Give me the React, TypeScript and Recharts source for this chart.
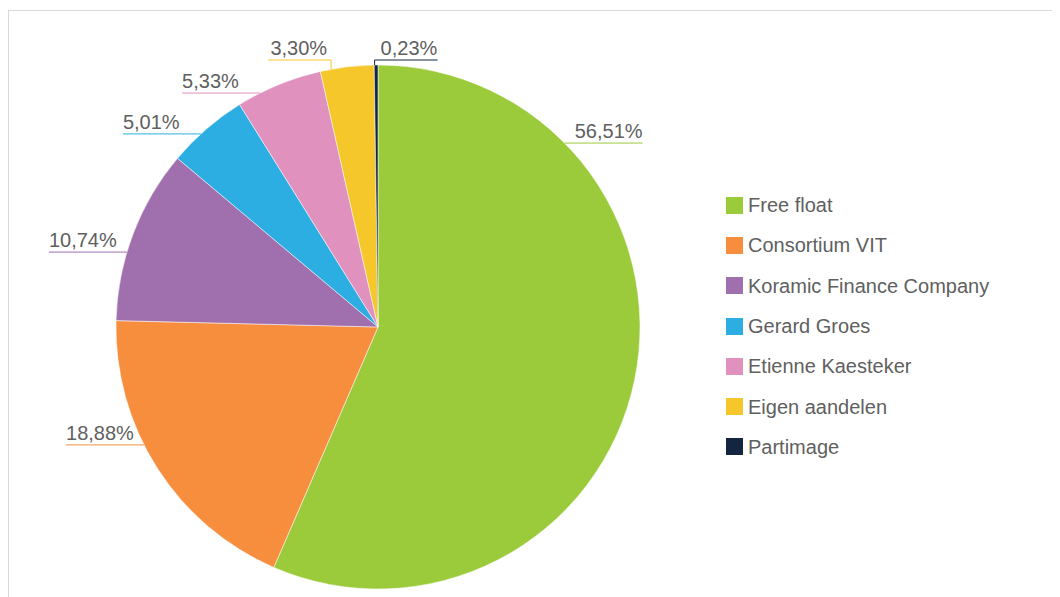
import React from 'react';
import { PieChart, Pie, Cell, Legend } from 'recharts';

const categories = [
  'Free float',
  'Consortium VIT',
  'Koramic Finance Company',
  'Gerard Groes',
  'Etienne Kaesteker',
  'Eigen aandelen',
  'Partimage',
];
const shares = [56.51, 18.88, 10.74, 5.01, 5.33, 3.3, 0.23];
const colors = ['#9bcb3b', '#f68e3e', '#a06fae', '#2daee3', '#e091be', '#f6c72b', '#13253f'];

// label placement (Excel "best fit" style): side labels at a vertical offset, top labels with a vertical connector
const labelLayout = [
  { kind: 'side', dy: -0.702, dir: 1 },
  { kind: 'side', dy: 0.45, dir: -1 },
  { kind: 'side', dy: -0.286, dir: -1 },
  { kind: 'side', dy: -0.737, dir: -1 },
  { kind: 'side', dy: -0.893, dir: -1 },
  { kind: 'top', dx: -0.179, dir: -1 },
  { kind: 'top', dx: -0.013, dir: 1 },
];

const data = categories.map((name, i) => ({ name, value: shares[i] }));

const FONT = '"Liberation Sans", Arial, Helvetica, sans-serif';
const TEXT = '#606060';

const fmt = (v: number) => v.toFixed(2).replace('.', ',') + '%';

const renderLabel = (props: any) => {
  const { cx, cy, outerRadius: r, index, value } = props;
  const lay: any = labelLayout[index];
  const color = colors[index];
  const txt = fmt(value);
  if (lay.kind === 'side') {
    const ly = cy + lay.dy * r;
    const ex = cx + lay.dir * Math.sqrt(r * r - (lay.dy * r) ** 2);
    const ox = ex + lay.dir * 78;
    return (
      <g key={`l${index}`}>
        <line x1={ex} y1={ly} x2={ox} y2={ly} stroke={color} strokeWidth={1} />
        <text
          x={ox}
          y={ly - 5}
          textAnchor={lay.dir > 0 ? 'end' : 'start'}
          fill={TEXT}
          fontSize={20}
          fontFamily={FONT}
        >
          {txt}
        </text>
      </g>
    );
  }
  const x = cx + lay.dx * r;
  const ly = cy - r - 5;
  const ey = cy - Math.sqrt(r * r - (lay.dx * r) ** 2);
  const hx = x + lay.dir * 63;
  return (
    <g key={`l${index}`}>
      <line x1={x} y1={ey} x2={x} y2={ly} stroke={color} strokeWidth={1} />
      <line x1={x} y1={ly} x2={hx} y2={ly} stroke={color} strokeWidth={1} />
      <text
        x={lay.dir > 0 ? x + 6 : x - 4}
        y={ly - 5}
        textAnchor={lay.dir > 0 ? 'start' : 'end'}
        fill={TEXT}
        fontSize={20}
        fontFamily={FONT}
      >
        {txt}
      </text>
    </g>
  );
};

const LegendContent = () => (
  <div style={{ fontFamily: FONT }}>
    {categories.map((name, i) => (
      <div key={name} style={{ display: 'flex', alignItems: 'center', height: 40.3 }}>
        <div style={{ width: 17, height: 17, background: colors[i], marginRight: 5 }} />
        <span style={{ fontSize: 20, color: TEXT, lineHeight: '20px' }}>{name}</span>
      </div>
    ))}
  </div>
);

export default function App() {
  return (
    <div style={{ position: 'relative', width: 1052, height: 587, marginTop: 2, overflow: 'hidden' }}>
      <PieChart width={1052} height={587} margin={{ top: 0, right: 0, bottom: 0, left: 0 }}>
        <Pie
          data={data}
          dataKey="value"
          nameKey="name"
          cx={370}
          cy={317}
          outerRadius={262}
          startAngle={90}
          endAngle={-270}
          stroke="#ffffff"
          strokeWidth={0.5}
          label={renderLabel}
          labelLine={false}
          isAnimationActive={false}
        >
          {data.map((d, i) => (
            <Cell key={d.name} fill={colors[i]} />
          ))}
        </Pie>
        <Legend
          content={<LegendContent />}
          wrapperStyle={{ position: 'absolute', left: 718, top: 175, width: 320 }}
        />
      </PieChart>
      <div
        style={{
          position: 'absolute',
          left: 0,
          top: 0,
          width: 1060,
          height: 600,
          borderTop: '1px solid #d9d9d9',
          borderLeft: '1px solid #d9d9d9',
          pointerEvents: 'none',
        }}
      />
    </div>
  );
}
